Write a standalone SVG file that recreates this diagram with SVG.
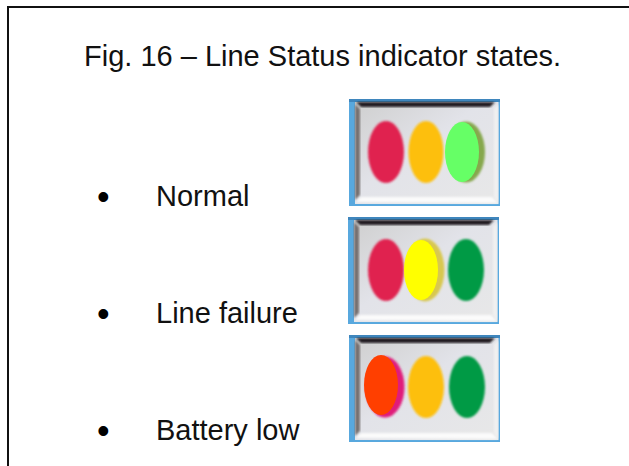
<svg xmlns="http://www.w3.org/2000/svg" width="629" height="466" viewBox="0 0 629 466">
<style>
text{font-family:"Liberation Sans",Arial,sans-serif;fill:#111;font-size:29px}
.dot{font-size:36px;fill:#000}
.blur{filter:url(#b)}
.bl{filter:url(#b2)}
</style>
<defs>
<filter id="b" x="-20%" y="-20%" width="140%" height="140%"><feGaussianBlur stdDeviation="1.2"/></filter>
<filter id="b2" x="-20%" y="-20%" width="140%" height="140%"><feGaussianBlur stdDeviation="0.8"/></filter>
<linearGradient id="g" x1="0" y1="0" x2="1" y2="1"><stop offset="0" stop-color="#cfcfcf"/><stop offset="0.45" stop-color="#e2e3e9"/><stop offset="1" stop-color="#e8e8e8"/></linearGradient>
<g id="panel">
<rect x="0" y="0" width="151" height="107" fill="#58a8de"/>
<rect x="0" y="0" width="151" height="3" fill="#3f86bd"/>
<rect x="6" y="3" width="143.500" height="102" fill="url(#g)"/>
<polygon points="7,3 146,3 141,8 12,8" fill="#231f20" class="bl"/>
<polygon points="6,5 11,10 11,96 6,101" fill="#767070" class="bl"/>
<polygon points="7,103 12,98 143,98 149,104" fill="#fbfbfb" class="bl"/>
<polygon points="149,5 145,10 145,98 149,104" fill="#f1f1f1" class="bl"/>
</g>
</defs>
<path d="M8 466V7H629" fill="#fff" stroke="#111" stroke-width="2"/>
<text id="title" x="84" y="66">Fig. 16 – Line Status indicator states.</text>
<g id="state-normal">
<text class="dot" x="97" y="209">•</text><text x="156" y="206">Normal</text>
<g transform="translate(349,99)"><use href="#panel"/>
<ellipse cx="37" cy="53" rx="18" ry="31" fill="#e0244f" class="blur"/>
<ellipse cx="77" cy="53" rx="17.500" ry="31" fill="#fdbf0c" class="blur"/>
<ellipse cx="117" cy="53" rx="19" ry="30.500" fill="#86a84e" class="bl"/>
<ellipse cx="113" cy="53" rx="17" ry="30" fill="#66ff66"/></g>
</g>
<g id="state-line-failure">
<text class="dot" x="97" y="326">•</text><text x="156" y="323">Line failure</text>
<g transform="translate(348,217)"><use href="#panel"/>
<ellipse cx="38" cy="53" rx="18" ry="31" fill="#e0244f" class="blur"/>
<ellipse cx="77" cy="53" rx="19.500" ry="31.500" fill="#d8c850" class="bl"/>
<ellipse cx="73" cy="53" rx="17" ry="30" fill="#ffff00"/>
<ellipse cx="118" cy="53" rx="18" ry="31" fill="#009a44" class="blur"/></g>
</g>
<g id="state-battery-low">
<text class="dot" x="97" y="443">•</text><text x="156" y="440">Battery low</text>
<g transform="translate(349,335)"><use href="#panel"/>
<ellipse cx="36" cy="52" rx="19.500" ry="30.500" fill="#e01f7a" class="bl"/>
<ellipse cx="32" cy="50" rx="17" ry="30" fill="#ff3f00"/>
<ellipse cx="77" cy="52" rx="18" ry="31" fill="#fdbf0c" class="blur"/>
<ellipse cx="118" cy="52" rx="18" ry="31" fill="#009a44" class="blur"/></g>
</g>
</svg>
